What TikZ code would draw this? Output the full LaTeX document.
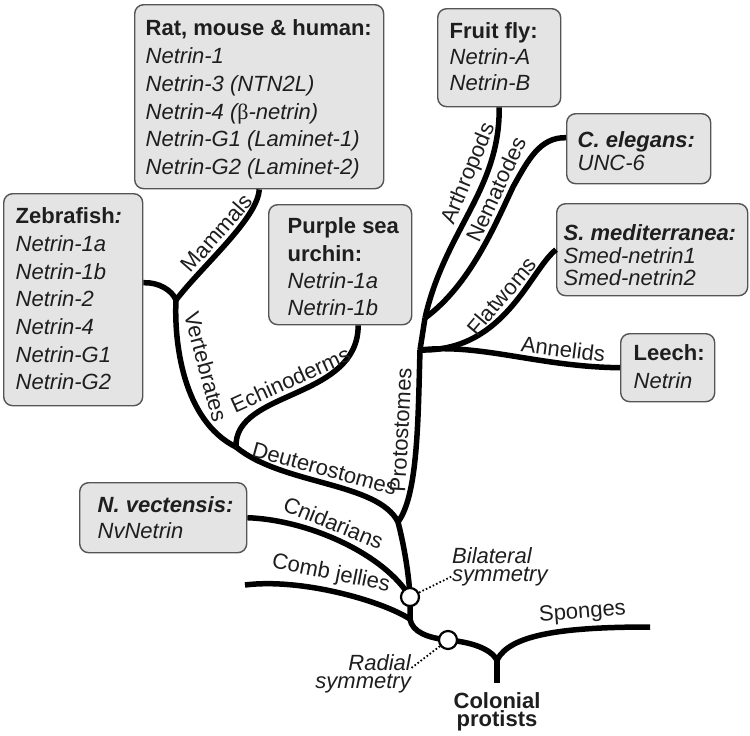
\documentclass[tikz,border=0pt]{standalone}
\usepackage{fontspec}
\setmainfont{Liberation Sans}
\newfontfamily\serifgreek{Liberation Serif}
\usetikzlibrary{calc}
\definecolor{boxfill}{RGB}{228,228,228}
\definecolor{boxline}{RGB}{85,85,85}
\definecolor{txt}{RGB}{30,30,30}
\newcommand\boxtxt[6]{\parbox[c][#2][t]{#1}{\raggedright\leftskip=#3\relax\fontsize{22pt}{#5}\selectfont\rule{0pt}{#4}#6}}
\tikzset{
  box/.style={draw=boxline, fill=boxfill, line width=1.4pt, rounded corners=9pt, inner sep=0pt, text=txt, anchor=north west},
  branch/.style={line width=5.5pt, black},
  circ/.style={circle, draw=black, fill=white, line width=2.2pt, minimum size=18pt, inner sep=0pt},
  dotline/.style={line width=1.8pt, dash pattern=on 1.6pt off 2.2pt},
  lab/.style={font=\fontsize{22pt}{18pt}\selectfont, text=txt, inner sep=0pt},
  blab/.style={lab, sloped, above=3.5pt}
}
\begin{document}
\begin{tikzpicture}[x=1pt,y=-1pt]
\useasboundingbox (0,0) rectangle (750,736);
\fill[white] (0,0) rectangle (750,736);
% boxes
\node[box] (rat) at (134,4) {\boxtxt{249pt}{184pt}{11pt}{31pt}{27.8pt}{\textbf{Rat, mouse \& human:}\\ \textit{Netrin-1}\\ \textit{Netrin-3 (NTN2L)}\\ \textit{Netrin-4 ({\serifgreek\upshape β}-netrin)}\\ \textit{Netrin-G1 (Laminet-1)}\\ \textit{Netrin-G2 (Laminet-2)}}};
\node[box] (zeb) at (3,193) {\boxtxt{139pt}{212pt}{12pt}{30pt}{27.7pt}{\textbf{Zebrafish\textit{:}}\\ \textit{Netrin-1a}\\ \textit{Netrin-1b}\\ \textit{Netrin-2}\\ \textit{Netrin-4}\\ \textit{Netrin-G1}\\ \textit{Netrin-G2}}};
\node[box] (urchin) at (268,204) {\boxtxt{143pt}{120pt}{19pt}{29pt}{27.3pt}{\textbf{Purple sea}\\ \textbf{urchin:}\\ \textit{Netrin-1a}\\ \textit{Netrin-1b}}};
\node[box] (fly) at (437,8) {\boxtxt{123pt}{98pt}{12pt}{30pt}{26pt}{\textbf{Fruit fly:}\\ \textit{Netrin-A}\\ \textit{Netrin-B}}};
\node[box] (eleg) at (566,113) {\boxtxt{144pt}{70pt}{11pt}{34pt}{23pt}{\textbf{\textit{C. elegans:}}\\ \textit{UNC-6}}};
\node[box] (smed) at (556,203) {\boxtxt{191pt}{92pt}{7pt}{37pt}{22.5pt}{\textbf{\textit{S. mediterranea:}}\\ \textit{Smed-netrin1}\\ \textit{Smed-netrin2}}};
\node[box] (leech) at (620,333) {\boxtxt{94pt}{68pt}{13pt}{27pt}{28pt}{\textbf{Leech:}\\ \textit{Netrin}}};
\node[box] (nvec) at (79,482) {\boxtxt{167pt}{70pt}{18pt}{30pt}{26pt}{\textbf{\textit{N. vectensis:}}\\ \textit{NvNetrin}}};
% junctions
\coordinate (V) at (176,300);
\coordinate (D) at (236,447);
\coordinate (J) at (398,522);
\coordinate (P3) at (420,350);
\coordinate (P2) at (425,318);
\coordinate (bj) at (410,597);
\coordinate (cj) at (410,619);
\coordinate (rj) at (448,640);
\coordinate (root) at (497,660);
\coordinate (spend) at (650,627);
\coordinate (combend) at (245,585);
\coordinate (nemid) at (513,187);
% bottom label
\node[lab, anchor=base] (col) at (497,708) {\parbox[t]{120pt}{\centering\bfseries Colonial\\protists}};
% branches with labels
\draw[branch] (rat.south) .. controls (258,218) and (203,265) .. node[blab, pos=0.5] (lma) {Mammals} (V);
\draw[branch] ([yshift=17pt]zeb.east) .. controls (158,282) and (172,290) .. (V);
\draw[branch] (V) .. controls (174,340) and (182,420) .. (D);
\node[lab, rotate=-75] (lve) at (206,367) {Vertebrates};
\draw[branch] (D) .. controls (282,485) and (378,482) .. node[blab, pos=0.47] (lde) {Deuterostomes} (J);
\draw[branch] (D) .. controls (234,390) and (358,400) .. node[blab, pos=0.5] (lec) {Echinoderms} ([xshift=18pt]urchin.south);
\draw[branch] (J) .. controls (418,495) and (418,420) .. (P3);
\node[lab, rotate=87] (lpr) at (401,430) {Protostomes};
\draw[branch] (P3) -- (P2);
\draw[branch] (P2) .. controls (445,230) and (500,190) .. node[blab, pos=0.66] (lar) {Arthropods} (fly.south);
\draw[branch] (P2) .. controls (470,285) and (495,225) .. node[blab, pos=0.93] (lne) {Nematodes} (nemid) .. controls (528,160) and (540,137) .. ([yshift=11pt]eleg.west);
\draw[branch] (P3) .. controls (505,352) and (530,270) .. node[blab, pos=0.52] (lfl) {Flatwoms} (smed.west);
\draw[branch] (P3) .. controls (480,343) and (540,367) .. node[blab, pos=0.74] (lan) {Annelids} (leech.west);
\draw[branch] (J) .. controls (404,545) and (409,575) .. (bj);
\draw[branch] (nvec.east) .. controls (310,520) and (385,555) .. node[blab, pos=0.42] (lcn) {Cnidarians} (bj);
\draw[branch] (combend) .. controls (300,578) and (380,600) .. node[blab, pos=0.45] (lco) {Comb jellies} (cj);
\draw[branch] (bj) -- (cj) .. controls (412,632) and (428,638) .. (rj);
\draw[branch] (rj) .. controls (470,642) and (490,648) .. (root);
\draw[branch] (root) -- ([yshift=9pt]col.north);
\draw[branch] (root) .. controls (510,635) and (560,627) .. node[blab, pos=0.72] (lsp) {Sponges} (spend);
% circles
\node[circ] (bil) at (bj) {};
\node[circ] (rad) at (rj) {};
% symmetry labels
\node[lab, anchor=base west] (bilab) at (452,563) {\parbox[t]{100pt}{\itshape Bilateral\\symmetry}};
\node[lab, anchor=base east] (radlab) at (411,670) {\parbox[t]{100pt}{\raggedleft\itshape Radial\\symmetry}};
\draw[dotline] (bil) -- ([yshift=-10pt]bilab.west);
\draw[dotline] (rad) -- ([yshift=5pt]radlab.east);
\end{tikzpicture}
\end{document}
